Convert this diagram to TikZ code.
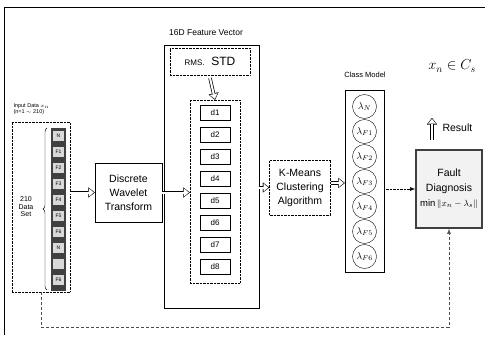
\documentclass[tikz,border=0pt]{standalone}
\usepackage{amsmath}
\usepackage{fontspec}
\setmainfont{Liberation Sans}
\usetikzlibrary{arrows.meta,decorations.pathreplacing}

\tikzset{
  box/.style={draw, thin, align=center, inner sep=1pt, font=\fontsize{10.5}{14}\selectfont},
  dotbox/.style={draw, densely dotted, thin},
  dcell/.style={draw, thin, minimum width=30pt, minimum height=15pt, inner sep=0pt, font=\fontsize{8}{8}\selectfont},
  fcell/.style={fill=black!15, inner sep=0.5pt, minimum width=11pt, minimum height=10pt, font=\fontsize{5}{5}\selectfont},
  model/.style={circle, draw, thin, minimum size=24pt, inner sep=0pt, font=\normalsize},
  hollow/.style={line width=3.4pt, -{Triangle[length=6.5pt, width=10pt, line width=0.1pt]},
    postaction={draw, white, line width=2pt, shorten >=1.1pt, -{Triangle[length=4.6pt, width=7.6pt, line width=0.1pt]}}},
  feedback/.style={densely dashed, thin, black!70},
}

\begin{document}
\begin{tikzpicture}[x=1pt, y=-1pt]
\useasboundingbox (0,0) rectangle (489,338);
\draw[thick] (4,335) -- (4,7) -- (485,7);

\node[align=left, font=\fontsize{5.5}{6.5}\selectfont, anchor=west] (intitle) at (10,109) {Input Data $x_n$\\(n=1 $\sim$ 210)};
\node[dotbox, minimum width=58pt, minimum height=170pt] (inbox) at (41,207) {};
\fill[black!75] (51,128) rectangle (66,291);
\node[fcell] (c1) at (58.5,136) {N};
\node[fcell] (c2) at (58.5,152) {F1};
\node[fcell] (c3) at (58.5,168) {F2};
\node[fcell] (c4) at (58.5,184) {F3};
\node[fcell] (c5) at (58.5,200) {F4};
\node[fcell] (c6) at (58.5,216) {F5};
\node[fcell] (c7) at (58.5,232) {F6};
\node[fcell] (c8) at (58.5,248) {N};
\node[fcell] (c9) at (58.5,264) {};
\node[fcell] (c10) at (58.5,280) {F6};
\draw[decorate, decoration={brace, amplitude=4pt}] (47,290) -- (47,128);
\node[align=center, font=\fontsize{7}{7.5}\selectfont] (setlbl) at (26,207) {210\\Data\\Set};

\node[box, minimum width=67pt, minimum height=59pt] (dwt) at (128.5,192.5) {Discrete\\Wavelet\\Transform};

\node[font=\fontsize{8.5}{9}\selectfont] (fvtitle) at (206,33) {16D Feature Vector};
\node[draw, thin, minimum width=95pt, minimum height=263pt] (fv) at (211.5,176.5) {};
\node[dotbox, minimum width=80pt, minimum height=27pt, font=\fontsize{12}{12}\selectfont] (rms) at (210,61.5) {{\fontsize{8}{8}\selectfont RMS.}\ \ STD};
\node[dotbox, minimum width=50pt, minimum height=183pt] (dbox) at (215,191.5) {};
\node[dcell] (d1) at (215,113) {d1};
\node[dcell] (d2) at (215,135) {d2};
\node[dcell] (d3) at (215,157) {d3};
\node[dcell] (d4) at (215,179) {d4};
\node[dcell] (d5) at (215,201) {d5};
\node[dcell] (d6) at (215,223) {d6};
\node[dcell] (d7) at (215,245) {d7};
\node[dcell] (d8) at (215,267) {d8};

\node[box, densely dotted, minimum width=61pt, minimum height=55pt] (km) at (300,187.5) {K-Means\\Clustering\\Algorithm};

\node[font=\fontsize{7.5}{8}\selectfont] (cmtitle) at (365,75) {Class Model};
\node[draw, thin, minimum width=39pt, minimum height=182pt] (cm) at (364.5,181) {};
\node[model] (l0) at (364.5,106.5) {$\lambda_{N}$};
\node[model] (l1) at (364.5,131.5) {$\lambda_{F1}$};
\node[model] (l2) at (364.5,156.5) {$\lambda_{F2}$};
\node[model] (l3) at (364.5,181.5) {$\lambda_{F3}$};
\node[model] (l4) at (364.5,206.5) {$\lambda_{F4}$};
\node[model] (l5) at (364.5,231.5) {$\lambda_{F5}$};
\node[model] (l6) at (364.5,256.5) {$\lambda_{F6}$};

\node[draw=black!75, line width=1.6pt, fill=black!5, minimum width=66pt, minimum height=78pt, inner sep=1pt, align=center, font=\fontsize{10.5}{15}\selectfont] (fd) at (449,189) {Fault\\Diagnosis\\{\fontsize{9.5}{10}\selectfont$\min\|x_n-\lambda_s\|$}};
\node[font=\Large] (cls) at (452,66) {$x_n\in C_s$};
\coordinate (rtop) at (432,118);
\node[anchor=west, font=\fontsize{10.5}{11}\selectfont] (res) at (439,128) {Result};

\draw[hollow] (inbox.east |- dwt.west) -- (dwt.west);
\draw[hollow] (dwt.east) -- (dwt.east -| dbox.west);
\draw[hollow] (rms.south |- 0,78) -- (dbox.north);
\draw[hollow] (fv.east |- km.west) -- (km.west);
\draw[hollow] (km.east |- 0,183) -- (cm.west |- 0,183);
\draw[hollow] (rtop |- 0,140) -- (rtop);
\draw[densely dotted, -{Latex[length=5pt]}] (fd.west -| cm.east) -- (fd.west);
\draw[feedback, -{Latex[length=5pt]}] (inbox.south) -- (inbox.south |- 0,327) -| (fd.south);
\end{tikzpicture}
\end{document}
